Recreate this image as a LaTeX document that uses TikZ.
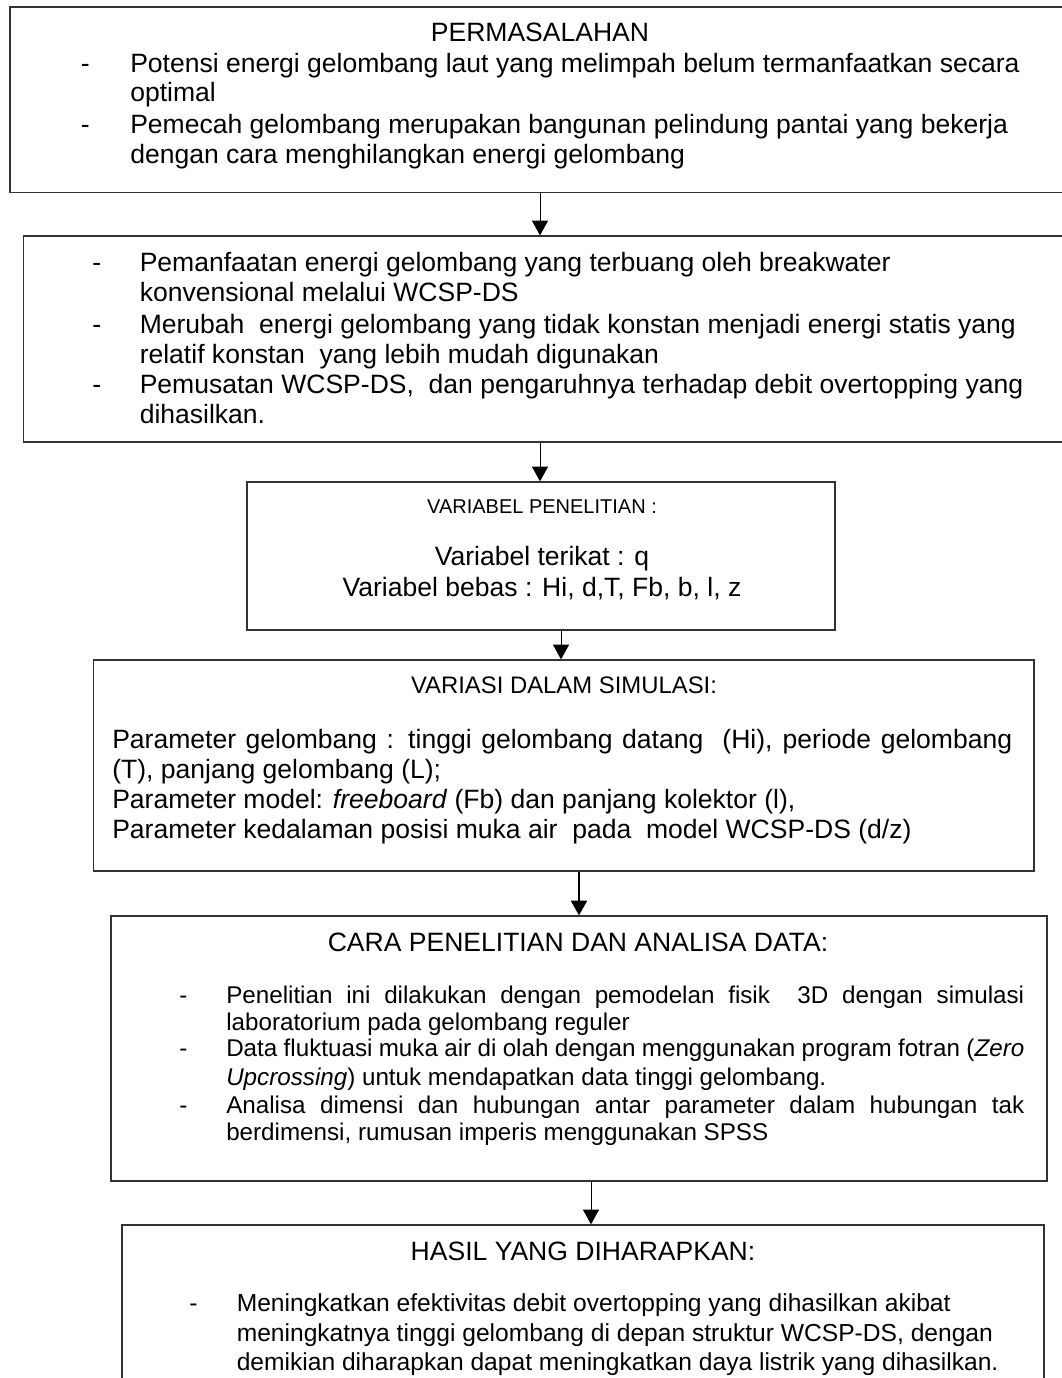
\documentclass[tikz,border=0pt]{standalone}
\usepackage{fontspec}
\setmainfont{Liberation Sans}
\usetikzlibrary{arrows.meta,fit}
\newcommand\fmain{\fontsize{19.9pt}{24pt}\selectfont}
\newcommand\fhdrsmall{\fontsize{15pt}{18pt}\selectfont}
\newcommand\fhdrmid{\fontsize{17.9pt}{21pt}\selectfont}
\newcommand\fbodyA{\fontsize{18.15pt}{21pt}\selectfont}
\newcommand\fbodyB{\fontsize{18.45pt}{22pt}\selectfont}
\begin{document}
\begin{tikzpicture}[x=0.75pt,y=-0.75pt,
  box/.style={draw=black!80,line width=1pt,inner sep=0pt,rectangle},
  lt/.style={inner sep=0pt,anchor=base west,font=\fmain},
  ct/.style={inner sep=0pt,anchor=base,font=\fmain},
  flow/.style={draw=black,line width=0.75pt,-{Triangle[width=12pt,length=11pt]}},
  thickflow/.style={flow,line width=1.4pt}
]
\useasboundingbox (0,0) rectangle (1062,1378);
\clip (0,0) rectangle (1062,1378);

% boxes
\node[box,fit={(10,7) (1075,192.7)}] (b1) {};
\node[box,fit={(23.5,236) (1075,442)}] (b2) {};
\node[box,fit={(247,482) (835,630)}] (b3) {};
\node[box,fit={(93.5,660) (1034,871)}] (b4) {};
\node[box,fit={(111,916) (1047,1181)}] (b5) {};
\node[box,fit={(122,1225) (1044,1400)}] (b6) {};

% connectors
\draw[flow] (b1.south -| 540,0) -- (b2.north -| 540,0);
\draw[flow] (b2.south -| 540,0) -- (b3.north -| 540,0);
\draw[flow] (b3.south -| 561,0) -- (b4.north -| 561,0);
\draw[thickflow] (b4.south -| 579,0) -- (b5.north -| 579,0);
\draw[flow] (b5.south -| 591,0) -- (b6.north -| 591,0);

% box 1
\node[ct] (t1h) at (540,41.7) {PERMASALAHAN};
\node[lt] (t1d1) at (80.5,72.7) {-};
\node[lt] (t1a) at (130,72.7) {Potensi energi gelombang laut yang melimpah belum termanfaatkan secara};
\node[lt] (t1b) at (130,101) {optimal};
\node[lt] (t1d2) at (80.5,133) {-};
\node[lt] (t1c) at (130,133) {Pemecah gelombang merupakan bangunan pelindung pantai yang bekerja};
\node[lt] (t1e) at (130,163) {dengan cara menghilangkan energi gelombang};

% box 2
\node[lt] (t2d1) at (92,271.7) {-};
\node[lt] (t2a) at (139.5,271.7) {Pemanfaatan energi gelombang yang terbuang oleh breakwater};
\node[lt] (t2b) at (139.5,301.7) {konvensional melalui WCSP-DS};
\node[lt] (t2d2) at (92,333) {-};
\node[lt] (t2c) at (139.5,333) {Merubah~ energi gelombang yang tidak konstan menjadi energi statis yang};
\node[lt] (t2e) at (139.5,363) {relatif konstan~ yang lebih mudah digunakan};
\node[lt] (t2d3) at (92,393) {-};
\node[lt] (t2f) at (139.5,393) {Pemusatan WCSP-DS,~ dan pengaruhnya terhadap debit overtopping yang};
\node[lt] (t2g) at (139.5,423) {dihasilkan.};

% box 3
\node[ct,font=\fhdrsmall] (t3h) at (542,513.3) {VARIABEL PENELITIAN :};
\node[ct] (t3a) at (542,565) {Variabel terikat : q};
\node[ct] (t3b) at (542,596.7) {Variabel bebas : Hi, d,T, Fb, b, l, z};

% box 4
\node[ct,font=\fhdrmid] (t4h) at (564,693.3) {VARIASI DALAM SIMULASI:};
\node[lt] (t4a) at (112,748.3) {\makebox[675pt][s]{Parameter gelombang : tinggi gelombang datang~ (Hi), periode gelombang}};
\node[lt] (t4b) at (112,778.3) {(T), panjang gelombang (L);};
\node[lt] (t4c) at (112,808.3) {Parameter model: \textit{freeboard} (Fb) dan panjang kolektor (l),};
\node[lt] (t4d) at (112,838.3) {Parameter kedalaman posisi muka air~ pada~ model WCSP-DS (d/z)};

% box 5
\node[ct] (t5h) at (578,951.7) {CARA PENELITIAN DAN ANALISA DATA:};
\node[lt,font=\fbodyA] (t5d1) at (179,1003.3) {-};
\node[lt,font=\fbodyA] (t5a) at (226,1003.3) {\makebox[598.5pt][s]{Penelitian ini dilakukan dengan pemodelan fisik~ 3D dengan simulasi}};
\node[lt,font=\fbodyA] (t5b) at (226,1030) {laboratorium pada gelombang reguler};
\node[lt,font=\fbodyA] (t5d2) at (179,1056.7) {-};
\node[lt,font=\fbodyA] (t5c) at (226,1056.7) {\makebox[598.5pt][s]{Data fluktuasi muka air di olah dengan menggunakan program fotran (\textit{Zero}}};
\node[lt,font=\fbodyA] (t5e) at (226,1085) {\textit{Upcrossing}) untuk mendapatkan data tinggi gelombang.};
\node[lt,font=\fbodyA] (t5d3) at (179,1113.3) {-};
\node[lt,font=\fbodyA] (t5f) at (226,1113.3) {\makebox[598.5pt][s]{Analisa dimensi dan hubungan antar parameter dalam hubungan tak}};
\node[lt,font=\fbodyA] (t5g) at (226,1140) {berdimensi, rumusan imperis menggunakan SPSS};

% box 6
\node[ct] (t6h) at (583,1260) {HASIL YANG DIHARAPKAN:};
\node[lt,font=\fbodyB] (t6d1) at (189,1311.7) {-};
\node[lt,font=\fbodyB] (t6a) at (236.5,1311.7) {Meningkatkan efektivitas debit overtopping yang dihasilkan akibat};
\node[lt,font=\fbodyB] (t6b) at (236.5,1341.7) {meningkatnya tinggi gelombang di depan struktur WCSP-DS, dengan};
\node[lt,font=\fbodyB] (t6c) at (236.5,1370) {demikian diharapkan dapat meningkatkan daya listrik yang dihasilkan.};
\end{tikzpicture}
\end{document}
